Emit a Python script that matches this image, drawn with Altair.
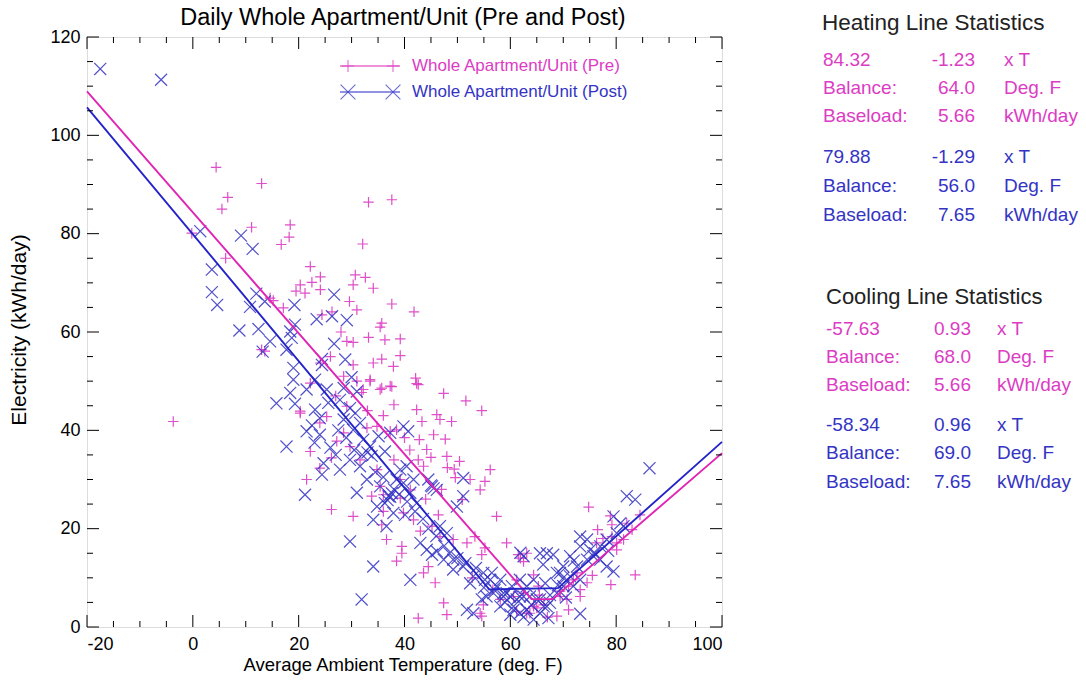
import altair as alt
import pandas as pd

# ---------------- data ----------------
pre_T = [4.4, 13.0, 6.6, 5.5, 33.2, 37.6, 11.1, 18.4, 18.2, 16.7, 32.1, -0.2, 6.2, 22.2, 24.1, 22.5,
         20.3, 19.5, 21.2, 24.1, 30.7, 32.6, 30.3, 34.1, 29.6, 37.6, 31.0, 14.6, 15.2, 17.1, 24.4, 26.3,
         35.7, 35.4, 29.1, 30.3, 33.2, 36.3, 39.2, 13.0, 13.6, 34.1, 35.7, 37.9, 39.2, 28.5, 30.3, 33.5,
         35.7, 37.6, 24.1, 32.2, -3.7, 41.8, 42.1, 42.6, 20.3,
         47.4, 51.6, 54.6, 42.3, 38.0, 46.1, 43.3, 46.7, 48.9, 45.5, 47.7, 42.8, 44.2, 48.0, 50.4, 49.4,
         55.2, 57.4, 59.3, 63.1, 54.6, 55.2, 47.4, 48.0, 42.6, 54.6, 45.8, 43.6, 44.5, 38.5, 39.5, 35.7,
         30.3, 26.2, 21.5, 24.0, 26.2, 22.2, 20.3, 22.2, 31.9, 35.4, 37.3, 42.3, 29.1, 32.9, 29.7, 31.6,
         34.8, 35.4, 33.8, 36.0, 39.2, 39.2, 41.1, 42.6, 43.6, 39.8, 41.7, 43.0, 45.2, 46.7, 49.2, 51.8,
         53.3, 36.6, 39.5, 36.0, 61.5, 62.5, 61.2, 62.5, 63.7, 64.4, 28.5, 27.2, 24.0, 25.3, 31.0, 33.5,
         34.8, 37.3, 38.5,
         64.4, 61.9, 68.8, 74.8, 78.9, 79.2, 76.5, 83.6, 79.0, 73.2, 74.5, 73.2, 82.0, 83.0, 71.0, 71.9,
         61.2, 63.1, 65.0, 66.3, 70.7, 69.4, 81.4, 80.1, 84.5, 54.3, 54.9, 58.1, 60.6,
         65.3, 69.4, 72.6, 76.3, 79.2, 80.1, 52.8, 56.7,
         48.1, 49.6, 52.4, 54.3, 50.9, 56.2, 46.4, 44.0, 47.0, 41.0, 45.0, 38.0, 40.0, 33.0, 36.0, 27.0,
         26.0, 28.0, 65.5, 67.0, 71.0, 75.5, 77.5]
pre_E = [93.5, 90.2, 87.4, 85.0, 86.4, 86.9, 81.3, 81.8, 79.3, 77.8, 77.9, 80.1, 75.0, 73.3, 71.2, 70.1,
         69.6, 68.3, 67.9, 68.6, 71.6, 71.1, 69.6, 68.9, 66.2, 65.7, 64.5, 66.9, 66.4, 64.9, 63.5, 64.1,
         61.8, 61.0, 58.1, 57.9, 58.9, 58.4, 58.6, 56.4, 56.1, 53.7, 54.5, 53.0, 55.2, 51.0, 53.3, 50.3,
         48.6, 48.9, 53.7, 48.3, 41.8, 64.1, 50.6, 49.3, 43.5,
         47.5, 46.0, 44.0, 44.2, 45.2, 43.2, 41.8, 42.2, 41.8, 39.1, 38.2, 38.1, 36.1, 34.7, 33.7, 32.1,
         29.6, 22.5, 17.1, 15.0, 14.7, 16.1, 4.9, 2.5, 1.8, 2.2, 9.0, 11.0, 12.3, 13.4, 16.4, 20.8,
         22.5, 23.9, 30.0, 32.3, 34.4, 35.7, 43.9, 49.6, 47.7, 48.3, 49.0, 49.5, 44.9, 40.5, 36.7, 34.0,
         32.0, 28.6, 26.6, 26.9, 26.2, 30.0, 27.9, 34.0, 32.7, 23.2, 21.8, 19.5, 20.5, 18.4, 17.8, 17.1,
         18.4, 17.8, 15.0, 23.5, 14.7, 13.3, 9.6, 6.9, 2.8, 4.2, 39.5, 37.8, 41.5, 42.8, 50.0, 50.0,
         40.8, 39.8, 40.1,
         10.6, 14.0, 2.2, 24.4, 22.6, 20.8, 19.8, 10.6, 8.6, 6.2, 9.0, 7.6, 21.1, 19.8, 8.3, 9.6,
         3.2, 2.8, 3.9, 4.5, 5.6, 6.2, 17.8, 17.1, 22.8, 2.8, 4.5, 5.6, 6.2,
         8.3, 7.3, 11.0, 17.1, 18.4, 15.7, 10.0, 7.6,
         32.4, 30.4, 30.0, 27.9, 25.9, 32.0, 22.8, 26.0, 28.0, 36.0, 34.5, 34.0, 38.5, 44.0, 43.0, 47.0,
         55.0, 60.0, 6.5, 2.0, 3.5, 10.5, 18.0]

post_T = [-17.5, -6.0,
          1.4, 9.1, 11.3, 3.6, 3.6, 4.6, 12.0, 10.8, 13.6, 19.2, 26.7, 19.3, 18.4, 18.7, 23.4, 26.3,
          29.1, 8.8, 12.4, 14.6, 13.2, 17.7, 26.7, 19.0, 19.0, 18.4, 24.4, 24.4, 28.8, 30.0, 23.1, 28.5,
          25.3, 31.0,
          15.8, 17.7, 19.3, 39.8, 40.7,
          21.5, 23.1, 24.0, 25.6, 27.8, 29.7, 28.5, 30.7, 30.3, 31.6,
          21.5, 24.0, 21.2, 24.7, 27.8, 24.4,
          32.2, 33.5, 35.1, 36.3, 37.3,
          29.7, 31.6, 32.9, 35.4, 31.0, 37.0, 36.3,
          39.2, 40.4, 38.5, 39.8, 41.7, 41.1, 42.3, 40.1,
          45.2, 44.5, 46.1,
          46.7, 48.0, 49.9, 51.1, 51.1,
          43.0, 44.2, 45.2, 46.1, 47.4, 49.2, 49.2,
          41.1, 34.1, 29.7, 31.9,
          34.1, 36.6, 37.9, 34.8,
          51.1, 53.0, 52.4, 55.2, 56.5, 58.1, 59.3, 56.8, 54.6, 51.8, 53.0,
          60.6, 61.8, 63.1, 64.4, 65.6, 66.9, 66.6, 65.6, 66.9,
          55.5, 58.1,
          37.3, 37.6, 36.8, 45.0, 45.5, 33.0, 33.8, 27.0, 26.0, 22.5, 23.0,
          86.3, 82.0, 83.6, 62.5,
          73.2, 74.5, 73.2, 75.1, 75.7, 77.0, 78.2, 79.5,
          70.0, 69.4, 71.3, 71.9, 73.2, 74.5,
          80.1, 80.8, 79.5, 81.4, 78.2, 77.0,
          71.3, 72.6, 70.0, 68.8, 67.5, 66.3, 65.0, 63.7, 62.5, 61.2, 60.0, 58.7, 57.4, 56.2, 54.9,
          60.6, 63.1, 73.2, 68.8, 70.0,
          61.8, 64.4, 65.6, 67.2, 63.1, 58.7, 60.3, 61.8, 66.2, 68.1, 61.9,
          27.5, 29.0, 30.5, 32.0, 34.5, 36.0, 38.0, 39.0, 40.5, 42.0, 43.5, 44.5, 46.0, 47.5, 48.5, 50.0,
          51.5, 53.5, 55.0, 57.0, 59.0, 60.0, 62.5, 64.0, 67.5, 69.0, 70.5, 72.0, 76.0, 78.5]
post_E = [113.5, 111.3,
          80.5, 79.6, 76.9, 72.7, 68.1, 65.5, 67.8, 65.1, 66.2, 65.5, 67.6, 61.5, 60.1, 58.8, 62.6, 63.2,
          62.4, 60.3, 60.6, 58.1, 56.0, 56.4, 57.6, 52.7, 50.3, 47.6, 54.5, 53.3, 54.4, 50.8, 50.3, 48.6,
          48.3, 47.9,
          45.5, 36.7, 45.4, 40.8, 39.8,
          48.3, 44.2, 42.5, 45.6, 46.2, 44.5, 42.2, 43.5, 40.1, 41.5,
          39.8, 39.1, 26.9, 33.3, 32.0, 31.0,
          38.1, 36.7, 38.8, 35.7, 39.5,
          34.0, 32.7, 30.0, 28.6, 27.3, 26.6, 25.2,
          32.0, 32.7, 30.0, 29.3, 30.0, 27.3, 25.2, 22.8,
          28.6, 30.0, 27.9,
          20.5, 19.1, 24.5, 30.3, 26.6,
          17.1, 15.7, 14.7, 15.4, 13.7, 13.7, 11.7,
          9.6, 12.3, 17.4, 5.6,
          21.8, 20.5, 23.2, 24.5,
          12.3, 10.3, 8.9, 9.6, 11.0, 9.6, 6.9, 6.9, 5.6, 3.5, 2.8,
          4.2, 6.2, 8.3, 9.6, 15.0, 15.0, 8.9, 5.6, 4.2,
          6.2, 4.2,
          26.5, 27.2, 25.8, 28.8, 28.2, 35.5, 34.8, 35.0, 36.5, 41.0, 37.5,
          32.3, 26.6, 25.9, 14.4,
          18.4, 17.8, 16.4, 15.7, 14.4, 13.7, 12.3, 11.3,
          12.3, 11.0, 10.3, 8.3, 9.6, 13.7,
          19.1, 21.1, 22.5, 20.5, 17.8, 16.4,
          14.4, 12.3, 8.3, 6.9, 4.9, 4.2, 5.6, 6.2, 6.2, 5.6, 6.2, 6.9, 8.3, 9.6, 11.0,
          3.5, 3.5, 2.7, 11.0, 10.0,
          2.8, 1.5, 2.8, 1.8, 3.5, 6.2, 8.3, 9.6, 12.7, 14.7, 15.1,
          40.0, 38.5, 36.0, 35.0, 31.5, 30.5, 28.0, 27.0, 25.5, 23.5, 22.0, 20.0, 18.5, 16.5, 15.0, 14.0,
          13.0, 12.0, 8.0, 7.5, 5.0, 2.5, 2.0, 4.5, 6.5, 8.5, 6.0, 13.5, 15.0, 15.5]

# fitted-line statistics shown in the right-hand panel
pre_stats = {"h_int": 84.32, "h_slope": -1.23, "h_bal": 64.0,
             "c_int": -57.63, "c_slope": 0.93, "c_bal": 68.0, "base": 5.66}
post_stats = {"h_int": 79.88, "h_slope": -1.29, "h_bal": 56.0,
              "c_int": -58.34, "c_slope": 0.96, "c_bal": 69.0, "base": 7.65}

x_major = [-20, 0, 20, 40, 60, 80, 100]
x_minor = [v for v in range(-20, 101, 5) if v % 20 != 0]
y_major = [0, 20, 40, 60, 80, 100, 120]
y_minor = [v for v in range(0, 121, 5) if v % 20 != 0]

title_text = "Daily Whole Apartment/Unit (Pre and Post)"
x_title = "Average Ambient Temperature (deg. F)"
y_title = "Electricity (kWh/day)"
legend_labels = ["Whole Apartment/Unit (Pre)", "Whole Apartment/Unit (Post)"]

heating_rows = [["84.32", "-1.23", "x T"], ["Balance:", "64.0", "Deg. F"], ["Baseload:", "5.66", "kWh/day"],
                ["79.88", "-1.29", "x T"], ["Balance:", "56.0", "Deg. F"], ["Baseload:", "7.65", "kWh/day"]]
cooling_rows = [["-57.63", "0.93", "x T"], ["Balance:", "68.0", "Deg. F"], ["Baseload:", "5.66", "kWh/day"],
                ["-58.34", "0.96", "x T"], ["Balance:", "69.0", "Deg. F"], ["Baseload:", "7.65", "kWh/day"]]

# ---------------- style / layout ----------------
FONT = "Liberation Sans"
PINK = "#DC3CC4"
BLUE = "#3434C4"
PINK_LINE = "#E024B4"
BLUE_LINE = "#2424C8"
W, H = 635, 590
PAD_L, PAD_T = 87, 37
PAD_R, PAD_B = 1086 - PAD_L - W, 685 - PAD_T - H

PLUS = "M-1,0L1,0M0,-1L0,1"
CROSS = "M-1,-1L1,1M-1,1L1,-1"

xs = alt.Scale(domain=[-20, 100], nice=False, zero=False)
ys = alt.Scale(domain=[0, 120], nice=False, zero=False)


def fit_line(s):
    pts = [-20, s["h_bal"], s["c_bal"], 100]
    vals = [max(s["h_int"] + s["h_slope"] * t, s["base"], s["c_int"] + s["c_slope"] * t) for t in pts]
    return pd.DataFrame({"T": pts, "E": vals})


pre_df = pd.DataFrame({"T": pre_T, "E": pre_E})
post_df = pd.DataFrame({"T": post_T, "E": post_E})

xaxis = alt.Axis(values=x_major, title=None, grid=False, ticks=False, tickSize=0, domain=False,
                 labelFont=FONT, labelFontSize=18, labelColor="black", labelPadding=8,
                 labelExpr="'' + datum.value")
yaxis = alt.Axis(values=y_major, title=None, grid=False, ticks=False, tickSize=0, domain=False,
                 labelFont=FONT, labelFontSize=18, labelColor="black", labelPadding=7,
                 labelExpr="'' + datum.value")

pre_pts = alt.Chart(pre_df).mark_point(shape=PLUS, filled=False, size=110, strokeWidth=1.2,
                                       color=PINK, opacity=0.9).encode(
    x=alt.X("T:Q", scale=xs, axis=xaxis), y=alt.Y("E:Q", scale=ys, axis=yaxis))
post_pts = alt.Chart(post_df).mark_point(shape=CROSS, filled=False, size=145, strokeWidth=1.2,
                                         color=BLUE, opacity=0.85).encode(
    x=alt.X("T:Q", scale=xs), y=alt.Y("E:Q", scale=ys))

pre_line = alt.Chart(fit_line(pre_stats)).mark_line(color=PINK_LINE, strokeWidth=1.9).encode(
    x=alt.X("T:Q", scale=xs), y=alt.Y("E:Q", scale=ys))
post_line = alt.Chart(fit_line(post_stats)).mark_line(color=BLUE_LINE, strokeWidth=1.9).encode(
    x=alt.X("T:Q", scale=xs), y=alt.Y("E:Q", scale=ys))


# inward ticks on all four sides
def xticks(vals, ln):
    d = pd.DataFrame({"T": vals})
    bot = alt.Chart(d).mark_rule(color="black", strokeWidth=1).encode(
        x=alt.X("T:Q", scale=xs), y=alt.value(H), y2=alt.value(H - ln))
    top = alt.Chart(d).mark_rule(color="black", strokeWidth=1).encode(
        x=alt.X("T:Q", scale=xs), y=alt.value(0), y2=alt.value(ln))
    return [bot, top]


def yticks(vals, ln):
    d = pd.DataFrame({"E": vals})
    lef = alt.Chart(d).mark_rule(color="black", strokeWidth=1).encode(
        y=alt.Y("E:Q", scale=ys), x=alt.value(0), x2=alt.value(ln))
    rig = alt.Chart(d).mark_rule(color="black", strokeWidth=1).encode(
        y=alt.Y("E:Q", scale=ys), x=alt.value(W), x2=alt.value(W - ln))
    return [lef, rig]


tick_layers = xticks(x_major, 12) + xticks(x_minor, 6) + yticks(y_major, 12) + yticks(y_minor, 6)

one = pd.DataFrame({"k": [0]})


def txt(s, px, py, color, size, align="left", angle=0):
    return alt.Chart(one).mark_text(text=s, align=align, baseline="middle", fontSize=size,
                                    color=color, font=FONT, angle=angle).encode(
        x=alt.value(px - PAD_L), y=alt.value(py - PAD_T))


def seg(px1, px2, py, color):
    return alt.Chart(one).mark_rule(color=color, strokeWidth=1.2).encode(
        x=alt.value(px1 - PAD_L), x2=alt.value(px2 - PAD_L), y=alt.value(py - PAD_T))


def sym(px, py, shape, size, color):
    return alt.Chart(one).mark_point(shape=shape, filled=False, size=size, strokeWidth=1.2,
                                     color=color).encode(
        x=alt.value(px - PAD_L), y=alt.value(py - PAD_T))


title_layers = [
    txt(title_text, 403, 18, "black", 23.5, "center"),
    txt(x_title, 403, 665, "black", 18.5, "center"),
    txt(y_title, 20, 330, "black", 21, "center", 270),
]

legend_layers = [
    seg(340, 400, 66, PINK_LINE), sym(348, 66, PLUS, 150, PINK), sym(393, 66, PLUS, 150, PINK),
    txt(legend_labels[0], 412, 66, PINK, 17),
    seg(340, 400, 92, BLUE_LINE), sym(348, 92, CROSS, 220, BLUE), sym(393, 92, CROSS, 220, BLUE),
    txt(legend_labels[1], 412, 92, BLUE, 17),
]

SZ = 19
stat_layers = [txt("Heating Line Statistics", 822, 23, "#222222", 22.5)]
heat_y = [60, 88, 116, 157, 186, 215]
for i, row in enumerate(heating_rows):
    c = PINK if i < 3 else BLUE
    stat_layers += [txt(row[0], 823, heat_y[i], c, SZ), txt(row[1], 975, heat_y[i], c, SZ, "right"),
                    txt(row[2], 1004, heat_y[i], c, SZ)]
stat_layers.append(txt("Cooling Line Statistics", 826, 297, "#222222", 22))
cool_y = [329, 357, 385, 425, 453, 482]
for i, row in enumerate(cooling_rows):
    c = PINK if i < 3 else BLUE
    stat_layers += [txt(row[0], 826, cool_y[i], c, SZ), txt(row[1], 971, cool_y[i], c, SZ, "right"),
                    txt(row[2], 997, cool_y[i], c, SZ)]

chart = alt.layer(pre_pts, post_pts, pre_line, post_line, *tick_layers, *title_layers,
                  *legend_layers, *stat_layers).properties(
    width=W, height=H,
    padding={"left": PAD_L, "top": PAD_T, "right": PAD_R, "bottom": PAD_B},
    autosize=alt.AutoSizeParams(type="none"),
).configure_view(stroke="black", strokeWidth=1).configure(background="white")

chart.save("out.html", embed_options={"renderer": "svg", "actions": False})
